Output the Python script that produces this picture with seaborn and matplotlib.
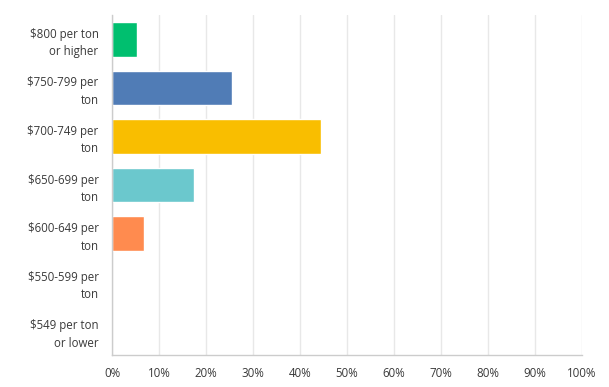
import matplotlib
matplotlib.use("Agg")
import matplotlib.pyplot as plt
import seaborn as sns
import pandas as pd
from matplotlib.ticker import FuncFormatter

categories = ["$800 per ton\nor higher", "$750-799 per\nton", "$700-749 per\nton",
              "$650-699 per\nton", "$600-649 per\nton", "$550-599 per\nton",
              "$549 per ton\nor lower"]
values = [5.26, 25.5, 44.5, 17.4, 6.7, 0.0, 0.0]
colors = ["#00BF6F", "#507CB6", "#F9BE00", "#6BC8CD", "#FF8B4F", "#9D5CE5", "#D25F90"]
xticks = list(range(0, 101, 10))

df = pd.DataFrame({"cat": categories, "val": values})

sns.set_theme(style="white")
plt.rcParams['font.family'] = ['Open Sans', 'DejaVu Sans']

fig = plt.figure(figsize=(6.09, 3.87), dpi=100)
ax = fig.add_axes([0.1846, 0.0827, 0.7704, 0.8785])

sns.barplot(data=df, y="cat", x="val", hue="cat", palette=colors, orient="h",
            width=0.714, legend=False, ax=ax, saturation=1)

ax.set_xlim(0, 100)
ax.set_ylim(6.5, -0.5)
ax.set_xticks(xticks)
ax.xaxis.set_major_formatter(FuncFormatter(lambda v, p: f"{int(v)}%"))
ax.set_xlabel("")
ax.set_ylabel("")
ax.grid(axis="x", color="#e8e8e8", linewidth=1)
ax.set_axisbelow(True)
for s in ["top", "right"]:
    ax.spines[s].set_visible(False)
for s in ["left", "bottom"]:
    ax.spines[s].set_color("#cccccc")
    ax.spines[s].set_linewidth(1)
ax.tick_params(axis="both", length=0, labelcolor="#3a3a3a")
ax.tick_params(axis="y", pad=10, labelsize=8.3)
ax.tick_params(axis="x", pad=9, labelsize=8.3)
for lbl in ax.get_yticklabels():
    lbl.set_horizontalalignment("right")
    lbl.set_multialignment("right")
    lbl.set_linespacing(1.45)

fig.savefig("out.png", dpi=100)
